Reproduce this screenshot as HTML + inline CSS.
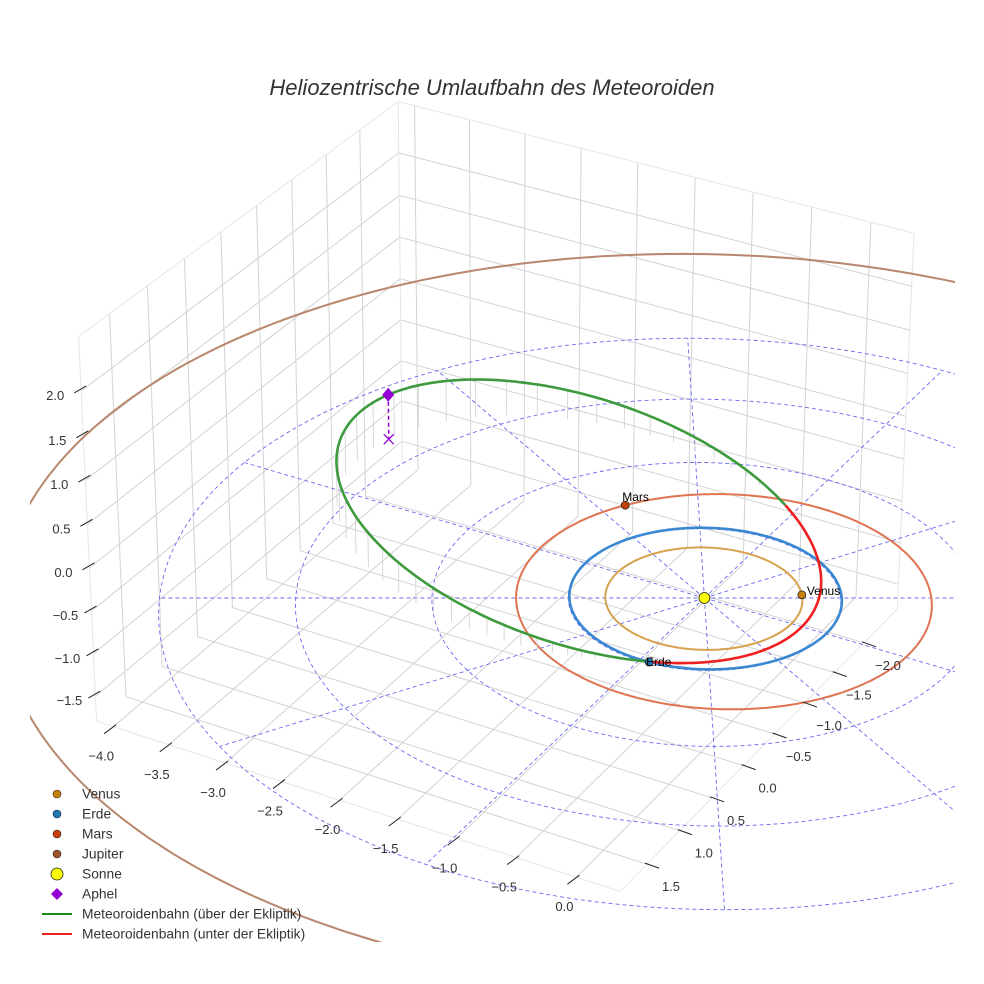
<!DOCTYPE html>
<html><head><meta charset="utf-8"><style>
html,body{margin:0;padding:0;background:#fff;}
svg{display:block;font-family:"Liberation Sans",sans-serif;}
</style></head><body>
<svg id="chart" width="984" height="984" viewBox="0 0 984 984" xmlns="http://www.w3.org/2000/svg">
<defs><clipPath id="plotclip"><rect x="30" y="0" width="925" height="942"/></clipPath></defs>
<rect width="984" height="984" fill="#fff"/>
<g clip-path="url(#plotclip)">
<g id="grid"></g>
<g id="polar"></g>
<g id="orbits"></g>
<g id="meteor"></g>
<g id="marks"></g>
</g>
<g id="ticks"></g>
<text x="492" y="95" text-anchor="middle" font-size="22" font-style="italic" fill="#333">Heliozentrische Umlaufbahn des Meteoroiden</text>
<g id="legend"></g>
</svg>
<script>
// ---- data ----
const xTicks = [-4.0,-3.5,-3.0,-2.5,-2.0,-1.5,-1.0,-0.5,0.0];
const yTicks = [-2.0,-1.5,-1.0,-0.5,0.0,0.5,1.0,1.5];
const zTicks = [-1.5,-1.0,-0.5,0.0,0.5,1.0,1.5,2.0];
const planetNames = ["Venus","Erde","Mars","Jupiter"];
const planetA = [0.723,1.0,1.524,5.185];
const planetE = [0.007,0.017,0.093,0.053];
const planetPeri = [0,90,150,60];
const planetPosAngle = [-33.5,85.8,217.7,150];
const planetOrbitColors = ["#d6a24e","#3b88d2","#e07452","#b8876c"];
const planetMarkerColors = ["#c8800c","#1f77b4","#c8410c","#a0522d"];
const ringRadii = [1,2,3,4];
const spokeAngles = [0,30,60,90,120,150,180,210,240,270,300,330];
const metP = 1.186, metE = 0.645, metOmega = 15, metNode = 85.8, metTanI = 0.166;
const legendLabels = ["Venus","Erde","Mars","Jupiter","Sonne","Aphel","Meteoroidenbahn (über der Ekliptik)","Meteoroidenbahn (unter der Ekliptik)"];

// ---- axes limits & camera ----
const xmin=-4.15,xmax=0.36,ymin=-2.58,ymax=1.9,zmin=-1.8,zmax=2.6;
const cx=(xmin+xmax)/2, cy=(ymin+ymax)/2, cz=(zmin+zmax)/2;
const TH=30*Math.PI/180, CT=Math.cos(TH), ST=Math.sin(TH);
const Dd=39, K=133, OX=504, OY=478;
function proj(x,y,z){
  const px=x-cx, py=y-cy, pz=0.75*(z-cz);
  const xc=0.866*px-0.5*py;
  const f=-(0.5*px+0.866*py);
  const yc=pz*CT+f*ST;
  const dep=f*CT-pz*ST;
  const s=Dd/(Dd+dep);
  return [OX+K*s*xc, OY-K*s*yc];
}
const NS="http://www.w3.org/2000/svg";
function mk(tag,attrs,parent){const e=document.createElementNS(NS,tag);for(const k in attrs)e.setAttribute(k,attrs[k]);parent.appendChild(e);return e;}
function line3(a,b,parent,stroke,w,dash){
  const p=proj(...a),q=proj(...b);
  const e=mk("line",{x1:p[0].toFixed(1),y1:p[1].toFixed(1),x2:q[0].toFixed(1),y2:q[1].toFixed(1),stroke:stroke,"stroke-width":w},parent);
  if(dash)e.setAttribute("stroke-dasharray",dash);
  return e;
}
function pathFrom(pts){return pts.map((p,i)=>(i?"L":"M")+p[0].toFixed(1)+" "+p[1].toFixed(1)).join("");}
const G=id=>document.getElementById(id);

// ---- grid ----
const grid=G("grid"), gc="#d3d3d3";
for(const x of xTicks){
  let e=line3([x,ymin,zmin],[x,ymax,zmin],grid,gc,1);
  
  
  e=line3([x,ymin,zmin],[x,ymin,zmax],grid,gc,1);
  
  
}
for(const y of yTicks){
  let e=line3([xmin,y,zmin],[xmax,y,zmin],grid,gc,1);
  
  
  e=line3([xmin,y,zmin],[xmin,y,zmax],grid,gc,1);
  
  
}
for(const z of zTicks){
  let e=line3([xmin,ymin,z],[xmin,ymax,z],grid,gc,1);
  
  
  e=line3([xmin,ymin,z],[xmax,ymin,z],grid,gc,1);
  
  
}
const edges=[[[xmin,ymin,zmax],[xmin,ymax,zmax]],[[xmin,ymin,zmax],[xmax,ymin,zmax]],[[xmin,ymin,zmin],[xmin,ymin,zmax]],[[xmin,ymax,zmin],[xmin,ymax,zmax]],[[xmax,ymin,zmin],[xmax,ymin,zmax]],[[xmin,ymax,zmin],[xmax,ymax,zmin]],[[xmax,ymin,zmin],[xmax,ymax,zmin]]];
for(const ed of edges){
  const e=line3(ed[0],ed[1],grid,"#e6e6e6",1);
  
  
}

// ---- ticks ----
const tk=G("ticks");
function tickText(x,y,t,anchor){const e=mk("text",{x:x.toFixed(1),y:y.toFixed(1),"font-size":13,fill:"#333","text-anchor":anchor||"middle"},tk);e.textContent=t;return e;}
const fmt=v=>(v<0?"\u2212":"")+Math.abs(v).toFixed(1);
for(const x of xTicks){
  const p=proj(x,ymax,zmin);
  const l=mk("line",{x1:p[0]+3,y1:p[1]-2,x2:p[0]-9,y2:p[1]+7,stroke:"#222","stroke-width":1},tk);
  
  
  const t=tickText(p[0]-12,p[1]+34,fmt(x));
  
  
}
for(const y of yTicks){
  const p=proj(xmax,y,zmin);
  const l=mk("line",{x1:p[0]-2,y1:p[1]-1,x2:p[0]+12,y2:p[1]+4,stroke:"#222","stroke-width":1},tk);
  
  
  const t=tickText(p[0]+24,p[1]+27,fmt(y));
  
  
}
for(const z of zTicks){
  const p=proj(xmin,ymax,z);
  const l=mk("line",{x1:p[0]+5,y1:p[1]-5,x2:p[0]-7,y2:p[1]+2,stroke:"#222","stroke-width":1},tk);
  
  
  const t=tickText(p[0]-26,p[1]+9,fmt(z));
  
  
}

// ---- polar grid ----
const pol=G("polar");
for(const r of ringRadii){
  const pts=[];for(let a=0;a<=360;a+=2){const t=a*Math.PI/180;pts.push(proj(r*Math.cos(t),r*Math.sin(t),0));}
  const e=mk("path",{d:pathFrom(pts),fill:"none",stroke:"#6a6af0","stroke-width":0.9,"stroke-dasharray":"4 3"},pol);
  
  
}
const rOut=ringRadii[ringRadii.length-1];
for(const a of spokeAngles){
  const t=a*Math.PI/180;
  const e=line3([0,0,0],[rOut*Math.cos(t),rOut*Math.sin(t),0],pol,"#6a6af0",0.9,"4 3");
  
  
}

// ---- planet orbits ----
const orb=G("orbits");
function planetXY(i,deg){
  const a=planetA[i],e=planetE[i],t=deg*Math.PI/180;
  const r=a*(1-e*e)/(1+e*Math.cos(t-planetPeri[i]*Math.PI/180));
  return [r*Math.cos(t),r*Math.sin(t)];
}
planetNames.forEach((n,i)=>{
  const pts=[];for(let a=0;a<=360;a+=1){const q=planetXY(i,a);pts.push(proj(q[0],q[1],0));}
  const e=mk("path",{d:pathFrom(pts),fill:"none",stroke:planetOrbitColors[i],"stroke-width":i===1?2.6:2},orb);
  
  
});

// ---- meteoroid ----
const met=G("meteor");
function metPos(deg){
  const t=deg*Math.PI/180;
  const r=metP/(1+metE*Math.cos(t-metOmega*Math.PI/180));
  const z=metTanI*r*Math.sin(t-metNode*Math.PI/180);
  return [r*Math.cos(t),r*Math.sin(t),z];
}
const stems=[];
let seg=[],segUp=null;
const segs=[];
for(let a=0;a<=360;a+=1){
  const q=metPos(a);const up=q[2]>=0;
  if(segUp===null)segUp=up;
  if(up!==segUp){seg.push(proj(...q));segs.push([seg,segUp]);seg=[];segUp=up;}
  seg.push(proj(...q));
  if(up && a%4===0)stems.push(q);
}
segs.push([seg,segUp]);
for(const q of stems){
  const e=line3(q,[q[0],q[1],0],met,"#cfcfcf",0.8);
  
  
}
for(const s of segs){
  const e=mk("path",{d:pathFrom(s[0]),fill:"none",stroke:s[1]?"#3d9a3d":"#f02020","stroke-width":2.6},met);
  
  
}

// ---- markers ----
const mkG=G("marks");
const aph=metPos(metOmega+180);
{
  const e=line3(aph,[aph[0],aph[1],0],mkG,"#9400d3",1.5,"4 3");
  
  
  const g=proj(aph[0],aph[1],0);
  const x=mk("path",{d:`M${g[0]-5} ${g[1]-5}L${g[0]+5} ${g[1]+5}M${g[0]-5} ${g[1]+5}L${g[0]+5} ${g[1]-5}`,stroke:"#9400d3","stroke-width":1.3},mkG);
  
  
  const p=proj(...aph);
  const d=mk("path",{d:`M${p[0]} ${p[1]-7}L${p[0]+6} ${p[1]}L${p[0]} ${p[1]+7}L${p[0]-6} ${p[1]}Z`,fill:"#9400d3"},mkG);
  
  
}
planetNames.forEach((n,i)=>{
  if(i===3)return;
  const q=planetXY(i,planetPosAngle[i]);const p=proj(q[0],q[1],0);
  const c=mk("circle",{cx:p[0],cy:p[1],r:4,fill:planetMarkerColors[i],stroke:"#222","stroke-width":0.8},mkG);
  
  
  const t=mk("text",{x:p[0]-3,y:p[1]-4,"font-size":12,fill:"#000"},mkG);
  t.textContent=n;
  if(i===0){t.setAttribute("x",p[0]+5);t.setAttribute("y",p[1]);}
  if(i===1){t.setAttribute("x",p[0]-3);t.setAttribute("y",p[1]+4);}
  
  
});
{
  const p=proj(0,0,0);
  const c=mk("circle",{cx:p[0],cy:p[1],r:5.5,fill:"#ffff00",stroke:"#222","stroke-width":0.8},mkG);
  
  
}

// ---- legend ----
const lg=G("legend");
legendLabels.forEach((lab,i)=>{
  const y=794+i*20;
  let m;
  if(i<4){m=mk("circle",{cx:57,cy:y,r:4,fill:planetMarkerColors[i],stroke:"#222","stroke-width":0.6},lg);}
  else if(i===4){m=mk("circle",{cx:57,cy:y,r:6,fill:"#ffff00",stroke:"#222","stroke-width":0.8},lg);}
  else if(i===5){m=mk("path",{d:`M57 ${y-6}L63 ${y}L57 ${y+6}L51 ${y}Z`,fill:"#9400d3"},lg);}
  else {m=mk("line",{x1:42,y1:y,x2:72,y2:y,stroke:i===6?"#1a8a1a":"#f02020","stroke-width":2},lg);}
  
  
  const t=mk("text",{x:82,y:y+4.5,"font-size":13.8,fill:"#333"},lg);
  t.textContent=lab;
  
  
});
</script>
</body></html>
